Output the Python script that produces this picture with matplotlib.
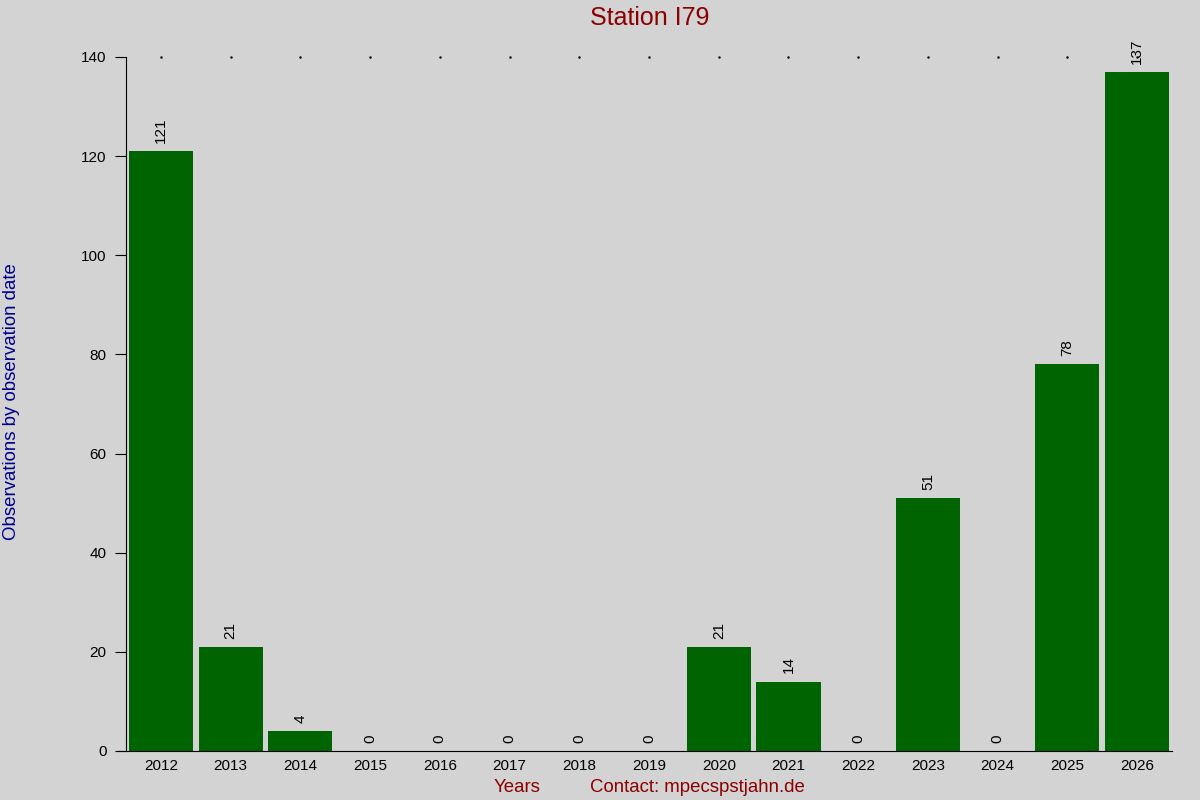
import matplotlib
matplotlib.use("Agg")
import matplotlib.pyplot as plt

years = ["2012", "2013", "2014", "2015", "2016", "2017", "2018", "2019",
         "2020", "2021", "2022", "2023", "2024", "2025", "2026"]
counts = [121, 21, 4, 0, 0, 0, 0, 0, 21, 14, 0, 51, 0, 78, 137]
yticks = [0, 20, 40, 60, 80, 100, 120, 140]

plt.rcParams['font.family'] = ['Liberation Sans', 'DejaVu Sans']
bg = '#d3d3d3'
fig = plt.figure(figsize=(12, 8), dpi=100, facecolor=bg)
ax = fig.add_axes([0.105, 0.06125, 0.8717, 0.8675], facecolor=bg)

x = list(range(len(years)))
ax.bar(x, counts, width=0.918, color='#006400')
for xi, v in zip(x, counts):
    ax.annotate(str(v), (xi, v), xytext=(0, 6), textcoords='offset points',
                rotation=90, ha='center', va='bottom', fontsize=11, color='black')
ax.plot(x, [140] * len(x), linestyle='none', marker='s', markersize=0.7,
        color='black', clip_on=False)

ax.set_xlim(-0.5, 14.5)
ax.set_ylim(0, 140)
ax.set_yticks(yticks)
ax.set_xticks(x)
ax.set_xticklabels(years)
ax.tick_params(axis='x', length=0, labelsize=11, pad=6)
ax.tick_params(axis='y', length=8, labelsize=11, direction='out', pad=6)
for s in ['top', 'right']:
    ax.spines[s].set_visible(False)
ax.spines['bottom'].set_bounds(-0.62, 14.5)

fig.text(0.541, 0.977, "Station I79", ha='center', va='center', fontsize=18, color='#8b0000')
fig.text(0.431, 0.016, "Years", ha='center', va='center', fontsize=13.4, color='#8b0000')
fig.text(0.5815, 0.016, "Contact: mpecspstjahn.de", ha='center', va='center', fontsize=13.4, color='#8b0000')
fig.text(0.0095, 0.4975, "Observations by observation date", ha='center', va='center',
         rotation=90, fontsize=13.4, color='#00008b')

fig.savefig("out.png", dpi=100, facecolor=bg)
